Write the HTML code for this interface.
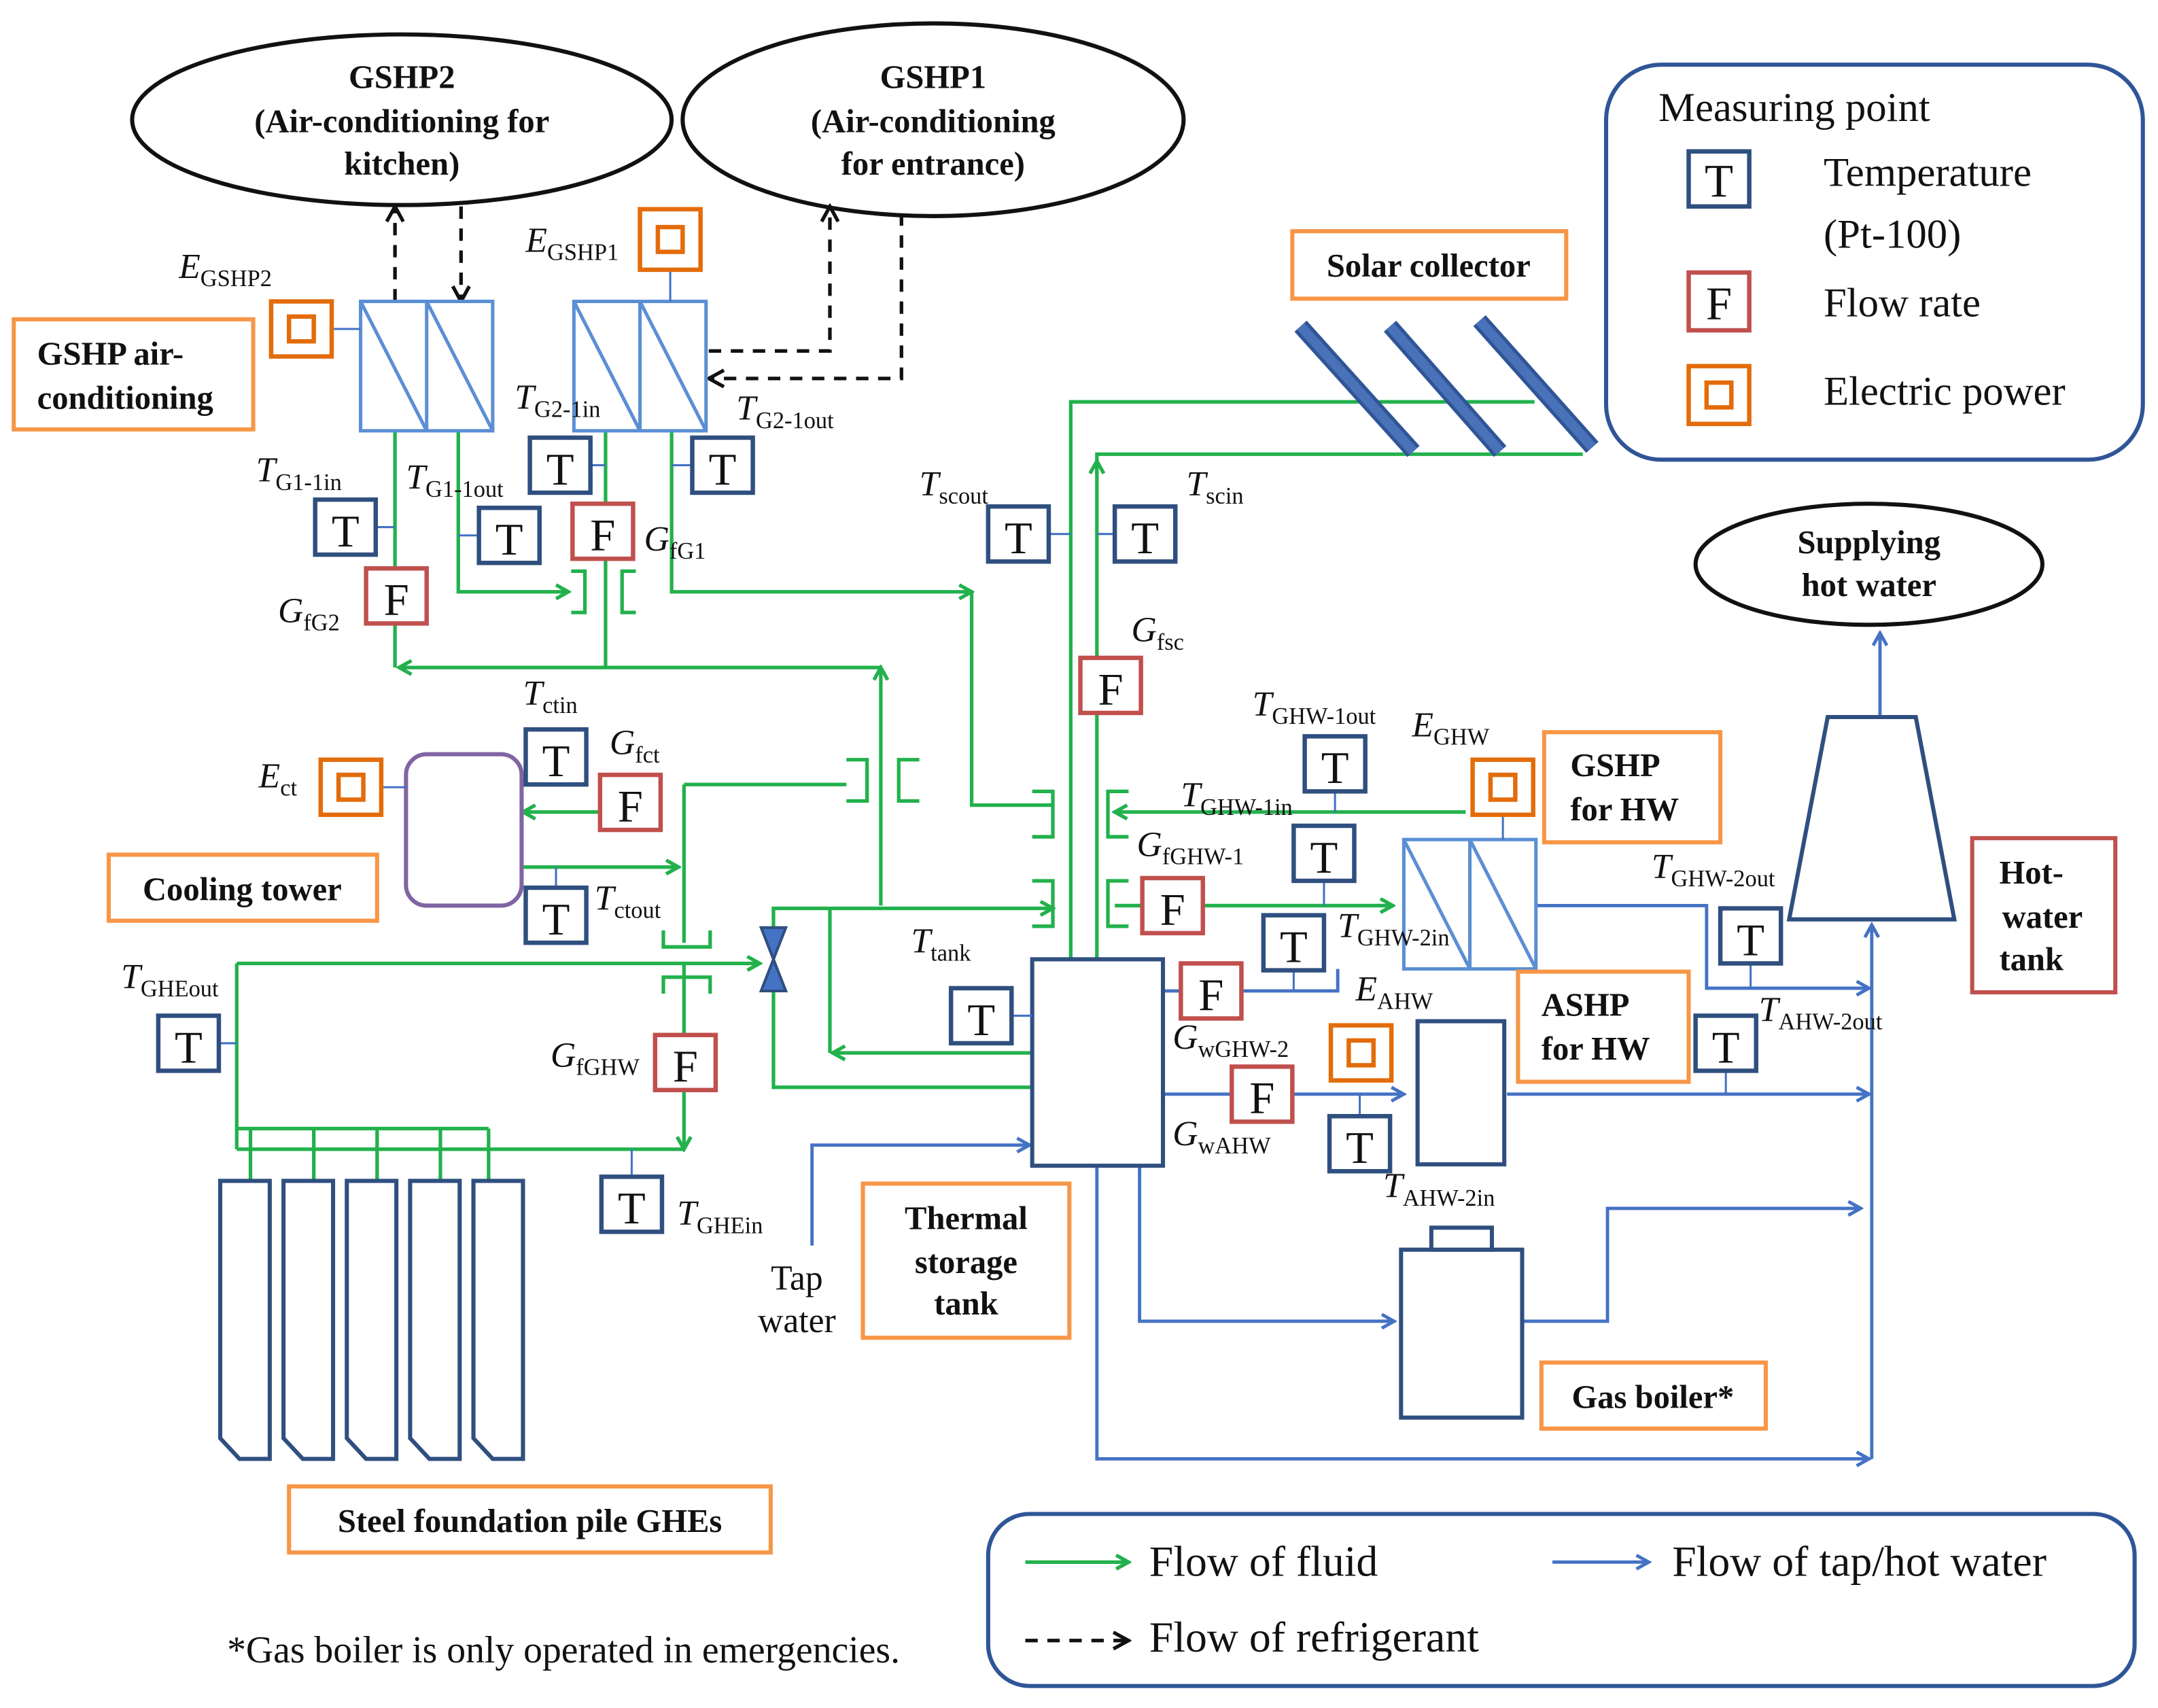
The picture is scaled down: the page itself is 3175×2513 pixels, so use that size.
<!DOCTYPE html>
<html><head><meta charset="utf-8"><style>
html,body{margin:0;padding:0;background:#fff;}
svg{display:block;}
text{font-family:"Liberation Serif",serif;fill:#111;}
.b{font-weight:bold;font-size:24px;}
.lab{font-size:25.5px;}
.it{font-style:italic;}
.sub{font-size:17px;font-style:normal;}
.g{stroke:#22b14c;stroke-width:2.6;fill:none;}
.bl{stroke:#4472c4;stroke-width:2.4;fill:none;}
.d{stroke:#111;stroke-width:2.6;fill:none;stroke-dasharray:9 7;}
.T{fill:#fff;stroke:#2f4f7f;stroke-width:3.2;}
.F{fill:#fff;stroke:#c0504d;stroke-width:3.2;}
.E{fill:#fff;stroke:#e36c0a;stroke-width:3.2;}
.o{fill:#fff;stroke:#f79646;stroke-width:3;}
.tl{stroke:#4472c4;stroke-width:1.5;}
</style></head><body>
<svg width="3175" height="2513" viewBox="0 0 1568 1241" preserveAspectRatio="none" xmlns="http://www.w3.org/2000/svg">
<defs>
<marker id="ag" markerWidth="12" markerHeight="12" refX="10" refY="6" orient="auto" markerUnits="userSpaceOnUse"><path d="M1,1 L10,6 L1,11" fill="none" stroke="#22b14c" stroke-width="2.6"/></marker>
<marker id="ab" markerWidth="12" markerHeight="12" refX="10" refY="6" orient="auto" markerUnits="userSpaceOnUse"><path d="M1,1 L10,6 L1,11" fill="none" stroke="#4472c4" stroke-width="2.4"/></marker>
<marker id="ak" markerWidth="14" markerHeight="14" refX="12" refY="7" orient="auto" markerUnits="userSpaceOnUse"><path d="M1,1 L12,7 L1,13" fill="none" stroke="#111" stroke-width="2.6"/></marker>
</defs>

<ellipse cx="292" cy="87" rx="196" ry="62" fill="#fff" stroke="#111" stroke-width="3"/>
<text class="b" x="292" y="64" text-anchor="middle">GSHP2</text>
<text class="b" x="292" y="96" text-anchor="middle">(Air-conditioning for</text>
<text class="b" x="292" y="127" text-anchor="middle">kitchen)</text>
<ellipse cx="678" cy="87" rx="182" ry="70" fill="#fff" stroke="#111" stroke-width="3"/>
<text class="b" x="678" y="64" text-anchor="middle">GSHP1</text>
<text class="b" x="678" y="96" text-anchor="middle">(Air-conditioning</text>
<text class="b" x="678" y="127" text-anchor="middle">for entrance)</text>
<ellipse cx="1358" cy="410" rx="126" ry="44" fill="#fff" stroke="#111" stroke-width="3"/>
<text class="b" x="1358" y="402" text-anchor="middle">Supplying</text>
<text class="b" x="1358" y="433" text-anchor="middle">hot water</text>

<path class="d" d="M287,219 V150" marker-end="url(#ak)"/>
<path class="d" d="M335,150 V219" marker-end="url(#ak)"/>
<path class="d" d="M515,255 H603 V150" marker-end="url(#ak)"/>
<path class="d" d="M655,155 V275 H515" marker-end="url(#ak)"/>

<path class="g" d="M1115,292 H778 V720" marker-end="url(#ag)"/>
<path class="g" d="M1150,330 H797 V700"/>
<path class="g" d="M797,345 V335" marker-end="url(#ag)"/>
<path class="g" d="M287,313 V485"/>
<path class="g" d="M640,658 V485" marker-end="url(#ag)"/>
<path class="g" d="M640,485 H290" marker-end="url(#ag)"/>
<path class="g" d="M333,313 V430 H413" marker-end="url(#ag)"/>
<path class="g" d="M440,313 V485"/>
<path class="g" d="M488,313 V430 H706" marker-end="url(#ag)"/>
<path class="g" d="M706,430 V585 H765"/>
<path class="g" d="M497,570 H615"/>
<path class="g" d="M436,590 H380" marker-end="url(#ag)"/>
<path class="g" d="M380,630 H493" marker-end="url(#ag)"/>
<path class="g" d="M497,570 V685"/>
<path class="g" d="M497,700 V835" marker-end="url(#ag)"/>
<path class="g" d="M172,835 H497"/>
<path class="g" d="M172,835 V700"/>
<path class="g" d="M172,700 H552" marker-end="url(#ag)"/>
<path class="g" d="M562,715 V790 H815" marker-end="url(#ag)"/>
<path class="g" d="M562,680 V660 H765" marker-end="url(#ag)"/>
<path class="g" d="M815,765 H605" marker-end="url(#ag)"/>
<path class="g" d="M603,660 V765"/>
<path class="g" d="M172,820 H355 M182,820 V858 M228,820 V858 M274,820 V858 M320,820 V858 M355,820 V858"/>
<path class="g" d="M1065,590 H810" marker-end="url(#ag)"/>
<path class="g" d="M810,658 H1012" marker-end="url(#ag)"/>
<path class="g" d="M415,415 h10 v30 h-10 M462,415 h-10 v30 h10 M615,552 h15 v30 h-15 M668,552 h-15 v30 h15 M750,575 h15 v33 h-15 M820,575 h-15 v33 h15 M750,640 h15 v33 h-15 M820,640 h-15 v33 h15 M482,676 v12 h34 v-12 M482,722 v-12 h34 v12"/>

<path class="bl" d="M590,905 V832 H748" marker-end="url(#ab)"/>
<path class="bl" d="M845,720 H972 V704"/>
<path class="bl" d="M845,795 H1020" marker-end="url(#ab)"/>
<path class="bl" d="M1116,658 H1240 V718 H1358" marker-end="url(#ab)"/>
<path class="bl" d="M1095,795 H1358" marker-end="url(#ab)"/>
<path class="bl" d="M828,848 V960 H1013" marker-end="url(#ab)"/>
<path class="bl" d="M1106,960 H1168 V878 H1352" marker-end="url(#ab)"/>
<path class="bl" d="M797,848 V1060 H1358" marker-end="url(#ab)"/>
<path class="bl" d="M1360,1060 V672" marker-end="url(#ab)"/>
<path class="bl" d="M1366,520 V460" marker-end="url(#ab)"/>

<g fill="#fff" stroke="#5b8fd5" stroke-width="2.5">
<rect x="262" y="219" width="96" height="94"/><path d="M310,219 V313 M262,219 L310,313 M310,219 L358,313"/>
<rect x="417" y="219" width="96" height="94"/><path d="M465,219 V313 M417,219 L465,313 M465,219 L513,313"/>
<rect x="1020" y="610" width="96" height="94"/><path d="M1068,610 V704 M1020,610 L1068,704 M1068,610 L1116,704"/>
</g>

<path d="M945,237 L1027,328 M1010,237 L1090,328 M1075,233 L1157,325" stroke="#2f5597" stroke-width="12"/>
<path d="M945,237 L1027,328 M1010,237 L1090,328 M1075,233 L1157,325" stroke="#4a72b8" stroke-width="7"/>

<rect x="295" y="548" width="84" height="110" rx="15" fill="#fff" stroke="#8064a2" stroke-width="3"/>
<rect x="750" y="697" width="95" height="150" fill="#fff" stroke="#2f4f7f" stroke-width="3"/>
<rect x="1030" y="742" width="63" height="104" fill="#fff" stroke="#2f4f7f" stroke-width="3"/>
<rect x="1018" y="908" width="88" height="122" fill="#fff" stroke="#2f4f7f" stroke-width="3"/>
<rect x="1040" y="892" width="44" height="16" fill="#fff" stroke="#2f4f7f" stroke-width="3"/>
<polygon points="1328,521 1392,521 1420,668 1300,668" fill="#fff" stroke="#2f4f7f" stroke-width="3"/>
<g fill="#fff" stroke="#2f4f7f" stroke-width="3">
<path d="M160,858 h36 v202 h-22 l-14,-15 z"/><path d="M206,858 h36 v202 h-22 l-14,-15 z"/><path d="M252,858 h36 v202 h-22 l-14,-15 z"/><path d="M298,858 h36 v202 h-22 l-14,-15 z"/><path d="M344,858 h36 v202 h-22 l-14,-15 z"/>
</g>
<path d="M553,674 L571,674 L562,697 Z M553,720 L571,720 L562,697 Z" fill="#4472c4" stroke="#2f4f7f" stroke-width="2"/>

<rect class="o" x="10" y="232" width="174" height="80"/>
<text class="b" x="27" y="265">GSHP air-</text><text class="b" x="27" y="297">conditioning</text>
<rect class="o" x="939" y="168" width="199" height="49"/>
<text class="b" x="1038" y="201" text-anchor="middle">Solar collector</text>
<rect class="o" x="79" y="621" width="195" height="48"/>
<text class="b" x="176" y="654" text-anchor="middle">Cooling tower</text>
<rect class="o" x="1122" y="532" width="128" height="80"/>
<text class="b" x="1141" y="564">GSHP</text><text class="b" x="1141" y="596">for HW</text>
<rect x="1433" y="609" width="104" height="112" fill="#fff" stroke="#c0504d" stroke-width="3"/>
<text class="b" x="1476" y="642" text-anchor="middle">Hot-</text><text class="b" x="1484" y="674" text-anchor="middle">water</text><text class="b" x="1476" y="705" text-anchor="middle">tank</text>
<rect class="o" x="1103" y="706" width="124" height="80"/>
<text class="b" x="1120" y="738">ASHP</text><text class="b" x="1120" y="770">for HW</text>
<rect class="o" x="627" y="860" width="150" height="112"/>
<text class="b" x="702" y="893" text-anchor="middle">Thermal</text><text class="b" x="702" y="925" text-anchor="middle">storage</text><text class="b" x="702" y="955" text-anchor="middle">tank</text>
<rect class="o" x="1120" y="990" width="163" height="48"/>
<text class="b" x="1201" y="1023" text-anchor="middle">Gas boiler*</text>
<rect class="o" x="210" y="1080" width="350" height="48"/>
<text class="b" x="385" y="1113" text-anchor="middle">Steel foundation pile GHEs</text>

<g class="tl">
<path d="M273,383 H287 M392,389 H333 M429,338 H440 M503,338 H488 M762,388 H778 M810,388 H797 M404,570 V548 M404,645 V630 M159,758 H172 M459,855 V835 M735,738 H750 M970,575 V590 M962,640 V658 M940,705 V720 M1272,700 V718 M1254,778 V795 M988,811 V795 M241,239 H262 M487,196 V219 M277,572 H295 M1092,592 V610"/>
</g>

<g font-size="33" text-anchor="middle">
<rect class="T" x="229" y="363" width="44" height="40"/><text x="251" y="397">T</text>
<rect class="T" x="348" y="369" width="44" height="40"/><text x="370" y="403">T</text>
<rect class="T" x="385" y="318" width="44" height="40"/><text x="407" y="352">T</text>
<rect class="T" x="503" y="318" width="44" height="40"/><text x="525" y="352">T</text>
<rect class="T" x="718" y="368" width="44" height="40"/><text x="740" y="402">T</text>
<rect class="T" x="810" y="368" width="44" height="40"/><text x="832" y="402">T</text>
<rect class="T" x="382" y="530" width="44" height="40"/><text x="404" y="564">T</text>
<rect class="T" x="382" y="645" width="44" height="40"/><text x="404" y="679">T</text>
<rect class="T" x="115" y="738" width="44" height="40"/><text x="137" y="772">T</text>
<rect class="T" x="437" y="855" width="44" height="40"/><text x="459" y="889">T</text>
<rect class="T" x="691" y="718" width="44" height="40"/><text x="713" y="752">T</text>
<rect class="T" x="948" y="535" width="44" height="40"/><text x="970" y="569">T</text>
<rect class="T" x="940" y="600" width="44" height="40"/><text x="962" y="634">T</text>
<rect class="T" x="918" y="665" width="44" height="40"/><text x="940" y="699">T</text>
<rect class="T" x="1250" y="660" width="44" height="40"/><text x="1272" y="694">T</text>
<rect class="T" x="1232" y="738" width="44" height="40"/><text x="1254" y="772">T</text>
<rect class="T" x="966" y="811" width="44" height="40"/><text x="988" y="845">T</text>
<rect class="F" x="266" y="413" width="44" height="40"/><text x="288" y="447">F</text>
<rect class="F" x="416" y="366" width="44" height="40"/><text x="438" y="400">F</text>
<rect class="F" x="785" y="478" width="44" height="40"/><text x="807" y="512">F</text>
<rect class="F" x="436" y="563" width="44" height="40"/><text x="458" y="597">F</text>
<rect class="F" x="476" y="752" width="44" height="40"/><text x="498" y="786">F</text>
<rect class="F" x="830" y="638" width="44" height="40"/><text x="852" y="672">F</text>
<rect class="F" x="858" y="700" width="44" height="40"/><text x="880" y="734">F</text>
<rect class="F" x="895" y="775" width="44" height="40"/><text x="917" y="809">F</text>
</g>
<g>
<rect class="E" x="197" y="219" width="44" height="40"/><rect class="E" x="210" y="230" width="18" height="18"/>
<rect class="E" x="465" y="152" width="44" height="44"/><rect class="E" x="478" y="165" width="18" height="18"/>
<rect class="E" x="233" y="552" width="44" height="40"/><rect class="E" x="246" y="563" width="18" height="18"/>
<rect class="E" x="1070" y="552" width="44" height="40"/><rect class="E" x="1083" y="563" width="18" height="18"/>
<rect class="E" x="967" y="745" width="44" height="40"/><rect class="E" x="980" y="756" width="18" height="18"/>
</g>

<g class="lab">
<text x="130" y="202"><tspan class="it">E</tspan><tspan class="sub" dy="6">GSHP2</tspan></text>
<text x="382" y="183"><tspan class="it">E</tspan><tspan class="sub" dy="6">GSHP1</tspan></text>
<text x="374" y="297"><tspan class="it">T</tspan><tspan class="sub" dy="6">G2-1in</tspan></text>
<text x="535" y="305"><tspan class="it">T</tspan><tspan class="sub" dy="6">G2-1out</tspan></text>
<text x="186" y="350"><tspan class="it">T</tspan><tspan class="sub" dy="6">G1-1in</tspan></text>
<text x="295" y="355"><tspan class="it">T</tspan><tspan class="sub" dy="6">G1-1out</tspan></text>
<text x="468" y="400"><tspan class="it">G</tspan><tspan class="sub" dy="6">fG1</tspan></text>
<text x="202" y="452"><tspan class="it">G</tspan><tspan class="sub" dy="6">fG2</tspan></text>
<text x="668" y="360"><tspan class="it">T</tspan><tspan class="sub" dy="6">scout</tspan></text>
<text x="862" y="360"><tspan class="it">T</tspan><tspan class="sub" dy="6">scin</tspan></text>
<text x="822" y="466"><tspan class="it">G</tspan><tspan class="sub" dy="6">fsc</tspan></text>
<text x="380" y="512"><tspan class="it">T</tspan><tspan class="sub" dy="6">ctin</tspan></text>
<text x="443" y="548"><tspan class="it">G</tspan><tspan class="sub" dy="6">fct</tspan></text>
<text x="188" y="572"><tspan class="it">E</tspan><tspan class="sub" dy="6">ct</tspan></text>
<text x="432" y="661"><tspan class="it">T</tspan><tspan class="sub" dy="6">ctout</tspan></text>
<text x="88" y="718"><tspan class="it">T</tspan><tspan class="sub" dy="6">GHEout</tspan></text>
<text x="662" y="692"><tspan class="it">T</tspan><tspan class="sub" dy="6">tank</tspan></text>
<text x="400" y="775"><tspan class="it">G</tspan><tspan class="sub" dy="6">fGHW</tspan></text>
<text x="492" y="890"><tspan class="it">T</tspan><tspan class="sub" dy="6">GHEin</tspan></text>
<text x="910" y="520"><tspan class="it">T</tspan><tspan class="sub" dy="6">GHW-1out</tspan></text>
<text x="1026" y="535"><tspan class="it">E</tspan><tspan class="sub" dy="6">GHW</tspan></text>
<text x="858" y="586"><tspan class="it">T</tspan><tspan class="sub" dy="6">GHW-1in</tspan></text>
<text x="826" y="622"><tspan class="it">G</tspan><tspan class="sub" dy="6">fGHW-1</tspan></text>
<text x="972" y="681"><tspan class="it">T</tspan><tspan class="sub" dy="6">GHW-2in</tspan></text>
<text x="1200" y="638"><tspan class="it">T</tspan><tspan class="sub" dy="6">GHW-2out</tspan></text>
<text x="985" y="727"><tspan class="it">E</tspan><tspan class="sub" dy="6">AHW</tspan></text>
<text x="852" y="762"><tspan class="it">G</tspan><tspan class="sub" dy="6">wGHW-2</tspan></text>
<text x="1278" y="742"><tspan class="it">T</tspan><tspan class="sub" dy="6">AHW-2out</tspan></text>
<text x="852" y="832"><tspan class="it">G</tspan><tspan class="sub" dy="6">wAHW</tspan></text>
<text x="1005" y="870"><tspan class="it">T</tspan><tspan class="sub" dy="6">AHW-2in</tspan></text>
<text x="579" y="937" text-anchor="middle">Tap</text>
<text x="579" y="968" text-anchor="middle">water</text>
<text x="165" y="1208" font-size="27.5">*Gas boiler is only operated in emergencies.</text>
</g>

<rect x="1167" y="47" width="390" height="287" rx="40" fill="none" stroke="#2f5597" stroke-width="3"/>
<g font-size="30">
<text x="1205" y="88">Measuring  point</text>
<text x="1325" y="135">Temperature</text>
<text x="1325" y="180">(Pt-100)</text>
<text x="1325" y="230">Flow rate</text>
<text x="1325" y="294">Electric power</text>
</g>
<g font-size="34" text-anchor="middle">
<rect class="T" x="1227" y="110" width="44" height="40"/><text x="1249" y="143">T</text>
<rect class="F" x="1227" y="198" width="44" height="42"/><text x="1249" y="232">F</text>
</g>
<rect class="E" x="1227" y="266" width="44" height="42"/><rect class="E" x="1240" y="278" width="18" height="18"/>

<rect x="718" y="1100" width="833" height="125" rx="30" fill="none" stroke="#2f5597" stroke-width="3"/>
<path class="g" d="M745,1135 H820" marker-end="url(#ag)"/>
<path class="bl" d="M1128,1135 H1198" marker-end="url(#ab)"/>
<path class="d" d="M745,1192 H820" marker-end="url(#ak)"/>
<g font-size="31.5">
<text x="835" y="1145">Flow of fluid</text>
<text x="1215" y="1145">Flow of tap/hot water</text>
<text x="835" y="1200">Flow of refrigerant</text>
</g>
</svg>
</body></html>
